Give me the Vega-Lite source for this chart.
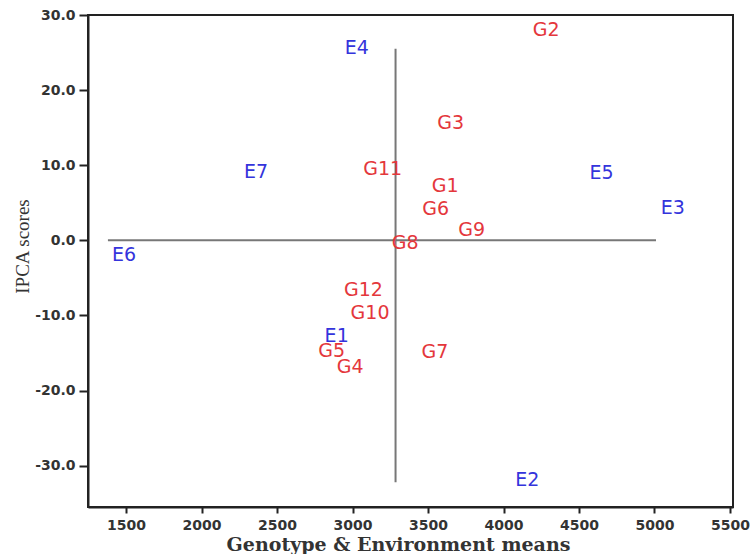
{
  "$schema": "https://vega.github.io/schema/vega-lite/v6.json",
  "width": 645,
  "height": 492,
  "autosize": "none",
  "padding": {"left": 88, "top": 15, "right": 20, "bottom": 47},
  "background": "white",
  "config": {
    "view": {"stroke": "#222", "strokeWidth": 2},
    "axis": {"grid": false}
  },
  "datasets": {
    "pts": [
      {"label": "E1", "type": "E", "x": 2895, "y": -12.8},
      {"label": "E2", "type": "E", "x": 4158, "y": -31.9},
      {"label": "E3", "type": "E", "x": 5121, "y": 4.3},
      {"label": "E4", "type": "E", "x": 3028, "y": 25.6},
      {"label": "E5", "type": "E", "x": 4650, "y": 9.0},
      {"label": "E6", "type": "E", "x": 1487, "y": -1.9},
      {"label": "E7", "type": "E", "x": 2361, "y": 9.1},
      {"label": "G1", "type": "G", "x": 3613, "y": 7.2},
      {"label": "G2", "type": "G", "x": 4282, "y": 28.0},
      {"label": "G3", "type": "G", "x": 3650, "y": 15.6},
      {"label": "G4", "type": "G", "x": 2984, "y": -16.9},
      {"label": "G5", "type": "G", "x": 2862, "y": -14.7},
      {"label": "G6", "type": "G", "x": 3551, "y": 4.2},
      {"label": "G7", "type": "G", "x": 3546, "y": -14.8},
      {"label": "G8", "type": "G", "x": 3348, "y": -0.35},
      {"label": "G9", "type": "G", "x": 3789, "y": 1.4},
      {"label": "G10", "type": "G", "x": 3116, "y": -9.7},
      {"label": "G11", "type": "G", "x": 3200, "y": 9.55},
      {"label": "G12", "type": "G", "x": 3072, "y": -6.6}
    ],
    "hline": [{"x": 1380, "x2": 5010, "y": 0}],
    "vline": [{"x": 3285, "y": 25.5, "y2": -32.2}]
  },
  "layer": [
    {
      "data": {"name": "hline"},
      "mark": {"type": "rule", "color": "#777", "strokeWidth": 2},
      "encoding": {
        "x": {"field": "x", "type": "quantitative", "scale": {"domain": [1248, 5520], "nice": false, "zero": false},
          "axis": {
            "values": [1500, 2000, 2500, 3000, 3500, 4000, 4500, 5000, 5500],
            "format": "d",
            "title": "Genotype & Environment means",
            "titleFont": "DejaVu Serif",
            "titleFontWeight": "bold",
            "titleFontSize": 19,
            "titleColor": "#333",
            "titleX": 310,
            "titleY": 43,
            "titleBaseline": "alphabetic",
            "titleAnchor": "start",
            "titleAlign": "center",
            "labelFont": "DejaVu Sans",
            "labelFontWeight": "bold",
            "labelFontSize": 14,
            "labelColor": "#333",
            "labelPadding": 5,
            "tickSize": 6,
            "tickWidth": 2,
            "tickColor": "#222",
            "domainColor": "#222",
            "domainWidth": 2
          }},
        "x2": {"field": "x2"},
        "y": {"field": "y", "type": "quantitative", "scale": {"domain": [-35.5, 30], "nice": false, "zero": false},
          "axis": {
            "values": [-30, -20, -10, 0, 10, 20, 30],
            "labelExpr": "datum.value < 0 ? '-' + format(-datum.value, '.1f') : format(datum.value, '.1f')",
            "title": "IPCA scores",
            "titleFont": "Liberation Serif",
            "titleFontWeight": "normal",
            "titleFontSize": 19,
            "titleColor": "#333",
            "titleAngle": -90,
            "titleX": -66,
            "titleY": 231,
            "titleAlign": "center",
            "titleBaseline": "middle",
            "labelFont": "DejaVu Sans",
            "labelFontWeight": "bold",
            "labelFontSize": 14,
            "labelColor": "#333",
            "labelPadding": 4,
            "tickSize": 9,
            "tickWidth": 2,
            "tickColor": "#222",
            "domainColor": "#222",
            "domainWidth": 2
          }}
      }
    },
    {
      "data": {"name": "vline"},
      "mark": {"type": "rule", "color": "#777", "strokeWidth": 2},
      "encoding": {
        "x": {"field": "x", "type": "quantitative"},
        "y": {"field": "y", "type": "quantitative"},
        "y2": {"field": "y2"}
      }
    },
    {
      "data": {"name": "pts"},
      "mark": {"type": "text", "font": "DejaVu Sans", "fontSize": 19, "align": "center", "baseline": "middle"},
      "encoding": {
        "x": {"field": "x", "type": "quantitative"},
        "y": {"field": "y", "type": "quantitative"},
        "text": {"field": "label"},
        "color": {"field": "type", "type": "nominal", "scale": {"domain": ["E", "G"], "range": ["#3434dc", "#e4373c"]}, "legend": null}
      }
    }
  ]
}
